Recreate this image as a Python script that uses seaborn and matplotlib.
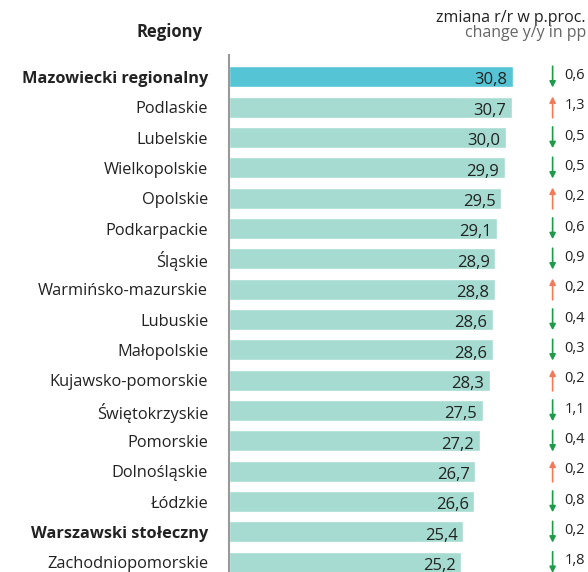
import matplotlib
matplotlib.use("Agg")
import matplotlib.pyplot as plt
import seaborn as sns

regions = ["Mazowiecki regionalny", "Podlaskie", "Lubelskie", "Wielkopolskie", "Opolskie",
           "Podkarpackie", "Śląskie", "Warmińsko-mazurskie", "Lubuskie", "Małopolskie",
           "Kujawsko-pomorskie", "Świętokrzyskie", "Pomorskie", "Dolnośląskie", "Łódzkie",
           "Warszawski stołeczny", "Zachodniopomorskie"]
values = [30.8, 30.7, 30.0, 29.9, 29.5, 29.1, 28.9, 28.8, 28.6, 28.6,
          28.3, 27.5, 27.2, 26.7, 26.6, 25.4, 25.2]
changes = [-0.6, 1.3, -0.5, -0.5, 0.2, -0.6, -0.9, 0.2, -0.4, -0.3,
           0.2, -1.1, -0.4, 0.2, -0.8, -0.2, -1.8]
bold_regions = ["Mazowiecki regionalny", "Warszawski stołeczny"]
highlight = "Mazowiecki regionalny"

sns.set_style("white")
plt.rcParams["font.family"] = ["Open Sans", "DejaVu Sans"]

BAR = "#a5dbd0"
HIGH = "#55c4d4"
UP = "#f07a5a"
DOWN = "#1f9a4a"
TXT = "#222222"

fig = plt.figure(figsize=(5.88, 5.72), dpi=100)
ax = fig.add_axes([229 / 588, 0, 359 / 588, 517 / 572])

palette = [HIGH if r == highlight else BAR for r in regions]
sns.barplot(x=values, y=regions, hue=regions, palette=palette, legend=False,
            orient="h", width=0.69, ax=ax, saturation=1)

ax.set_xlim(0, 359 / 9.22)
ax.set_ylim(16.32, -0.72)
for s in ["top", "right", "bottom"]:
    ax.spines[s].set_visible(False)
ax.spines["left"].set_color("#999999")
ax.spines["left"].set_linewidth(1.5)
ax.set_xticks([])
ax.set_xlabel("")
ax.set_ylabel("")
ax.tick_params(axis="y", length=0, pad=15, labelsize=11.8, labelcolor=TXT)
for lab in ax.get_yticklabels():
    if lab.get_text() in bold_regions:
        lab.set_fontweight("bold")

for i, (v, c) in enumerate(zip(values, changes)):
    ax.text(v - 0.6, i + 0.12, f"{v:.1f}".replace(".", ","), ha="right", va="center",
            fontsize=12, color=TXT)
    col = UP if c > 0 else DOWN
    if c > 0:
        start, end = i + 0.35, i - 0.35
    else:
        start, end = i - 0.35, i + 0.35
    ax.annotate("", xy=(35.1, end), xytext=(35.1, start), annotation_clip=False,
                arrowprops=dict(arrowstyle="-|>,head_width=0.18,head_length=0.35",
                                color=col, lw=1.2, shrinkA=0, shrinkB=0))
    ax.text(36.4, i - 0.05, f"{abs(c):.1f}".replace(".", ","), ha="left", va="center",
            fontsize=10.5, color=TXT, clip_on=False)

fig.text(170 / 588, 1 - 32 / 572, "Regiony", ha="center", va="center",
         fontsize=12, fontweight="bold", color=TXT)
fig.text(586 / 588, 1 - 18 / 572, "zmiana r/r w p.proc.", ha="right", va="center",
         fontsize=11.5, color=TXT)
fig.text(586 / 588, 1 - 33 / 572, "change y/y in pp", ha="right", va="center",
         fontsize=11.5, color="#666666")

fig.savefig("out.png", dpi=100)
